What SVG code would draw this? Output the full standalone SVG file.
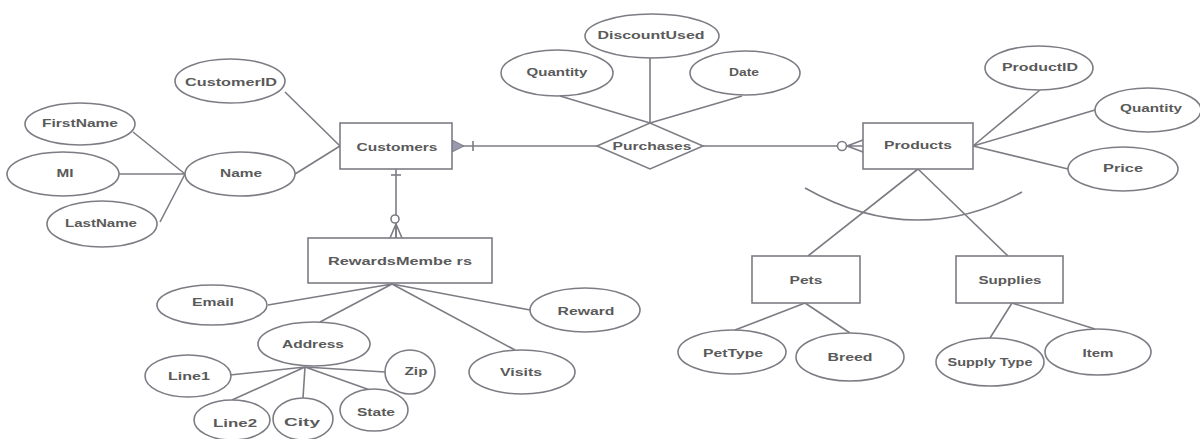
<svg xmlns="http://www.w3.org/2000/svg" width="1200" height="439" viewBox="0 0 1200 439">
<style>
.s{fill:#fff;stroke:#7c7c84;stroke-width:1.6}
.l{fill:none;stroke:#7c7c84;stroke-width:1.6}
.t{font-family:"Liberation Sans",Arial,sans-serif;font-weight:bold;font-size:11px;fill:#5a5a5a;text-anchor:middle}
</style>
<rect width="1200" height="439" fill="#fff"/>
<g id="connectors">
<path class="l" d="M285,92 L340,146 M295,174 L340,146 M133,132 L185,174 M118,174 L185,174 M160,222 L185,174"/>
<path class="l" d="M452,146 L597,146 M703,146 L838,146"/>
<path class="l" d="M560,96 L650,123 M650,58 L650,123 M742,96 L650,123"/>
<path class="l" d="M973,146 L1040,90 M973,146 L1095,110 M973,146 L1068,169"/>
<path class="l" d="M918,169 L808,256 M918,169 L1008,256"/>
<path class="l" d="M805,188 Q915,250 1022,192"/>
<path class="l" d="M805,303 L735,330 M805,303 L850,333 M1012,303 L990,338 M1012,303 L1095,329"/>
<path class="l" d="M396,169 L396,238"/>
<path class="l" d="M392,284 L268,305 M392,284 L320,322 M392,284 L530,310 M392,284 L515,350"/>
<path class="l" d="M305,367 L230,375 M305,367 L232,400 M305,367 L303,398 M305,367 L370,390 M305,367 L385,372"/>
<polygon points="452,140 464,146 452,152" fill="#9a9aae" stroke="#7c7c84" stroke-width="1"/>
<path class="l" d="M473,141 L473,151"/>
<circle cx="842" cy="146" r="4.5" class="s"/>
<path class="l" d="M847,146 L863,140 M847,146 L863,146 M847,146 L863,152"/>
<path class="l" d="M391,175 L401,175"/>
<circle cx="395" cy="219" r="4" class="s"/>
<path class="l" d="M396,224 L390,238 M396,224 L396,238 M396,224 L402,238"/>
</g>
<g id="Customers"><rect class="s" x="340" y="123" width="112" height="46"/><text class="t" x="397" y="151" textLength="81" lengthAdjust="spacingAndGlyphs">Customers</text></g>
<g id="CustomerID"><ellipse class="s" cx="230" cy="81" rx="55" ry="22"/><text class="t" x="231" y="86" textLength="92" lengthAdjust="spacingAndGlyphs">CustomerID</text></g>
<g id="FirstName"><ellipse class="s" cx="80" cy="124" rx="55" ry="21"/><text class="t" x="80" y="127" textLength="76" lengthAdjust="spacingAndGlyphs">FirstName</text></g>
<g id="MI"><ellipse class="s" cx="63" cy="174" rx="56" ry="22"/><text class="t" x="65" y="177" textLength="17" lengthAdjust="spacingAndGlyphs">MI</text></g>
<g id="Name"><ellipse class="s" cx="240" cy="174" rx="55" ry="22"/><text class="t" x="241" y="177" textLength="42" lengthAdjust="spacingAndGlyphs">Name</text></g>
<g id="LastName"><ellipse class="s" cx="102" cy="224" rx="55" ry="23"/><text class="t" x="101" y="227" textLength="72" lengthAdjust="spacingAndGlyphs">LastName</text></g>
<g id="Purchases"><polygon class="s" points="597,146 650,123 703,146 650,169"/><text class="t" x="652" y="150" textLength="79" lengthAdjust="spacingAndGlyphs">Purchases</text></g>
<g id="Quantity1"><ellipse class="s" cx="557" cy="73" rx="56" ry="23"/><text class="t" x="557" y="76" textLength="61" lengthAdjust="spacingAndGlyphs">Quantity</text></g>
<g id="DiscountUsed"><ellipse class="s" cx="652" cy="36" rx="67" ry="22"/><text class="t" x="651" y="39" textLength="107" lengthAdjust="spacingAndGlyphs">DiscountUsed</text></g>
<g id="Date"><ellipse class="s" cx="745" cy="73" rx="55" ry="22"/><text class="t" x="744" y="76" textLength="30" lengthAdjust="spacingAndGlyphs">Date</text></g>
<g id="Products"><rect class="s" x="863" y="123" width="110" height="46"/><text class="t" x="918" y="149" textLength="68" lengthAdjust="spacingAndGlyphs">Products</text></g>
<g id="ProductID"><ellipse class="s" cx="1039" cy="68" rx="54" ry="22"/><text class="t" x="1040" y="71" textLength="76" lengthAdjust="spacingAndGlyphs">ProductID</text></g>
<g id="Quantity2"><ellipse class="s" cx="1148" cy="110" rx="53" ry="22"/><text class="t" x="1151" y="112" textLength="62" lengthAdjust="spacingAndGlyphs">Quantity</text></g>
<g id="Price"><ellipse class="s" cx="1123" cy="169" rx="55" ry="22"/><text class="t" x="1123" y="172" textLength="40" lengthAdjust="spacingAndGlyphs">Price</text></g>
<g id="Pets"><rect class="s" x="752" y="256" width="108" height="47"/><text class="t" x="806" y="284" textLength="33" lengthAdjust="spacingAndGlyphs">Pets</text></g>
<g id="Supplies"><rect class="s" x="956" y="256" width="107" height="47"/><text class="t" x="1010" y="284" textLength="63" lengthAdjust="spacingAndGlyphs">Supplies</text></g>
<g id="PetType"><ellipse class="s" cx="732" cy="352" rx="54" ry="22"/><text class="t" x="733" y="357" textLength="60" lengthAdjust="spacingAndGlyphs">PetType</text></g>
<g id="Breed"><ellipse class="s" cx="850" cy="357" rx="54" ry="24"/><text class="t" x="850" y="361" textLength="45" lengthAdjust="spacingAndGlyphs">Breed</text></g>
<g id="SupplyType"><ellipse class="s" cx="990" cy="362" rx="54" ry="24"/><text class="t" x="990" y="366" textLength="85" lengthAdjust="spacingAndGlyphs">Supply Type</text></g>
<g id="Item"><ellipse class="s" cx="1098" cy="352" rx="53" ry="23"/><text class="t" x="1098" y="357" textLength="31" lengthAdjust="spacingAndGlyphs">Item</text></g>
<g id="RewardsMembers"><rect class="s" x="308" y="238" width="184" height="45"/><text class="t" x="400" y="265" textLength="144" lengthAdjust="spacingAndGlyphs">RewardsMembe rs</text></g>
<g id="Email"><ellipse class="s" cx="212" cy="305" rx="55" ry="20"/><text class="t" x="213" y="306" textLength="42" lengthAdjust="spacingAndGlyphs">Email</text></g>
<g id="Address"><ellipse class="s" cx="314" cy="344" rx="56" ry="22"/><text class="t" x="313" y="348" textLength="62" lengthAdjust="spacingAndGlyphs">Address</text></g>
<g id="Reward"><ellipse class="s" cx="585" cy="310" rx="55" ry="22"/><text class="t" x="586" y="315" textLength="57" lengthAdjust="spacingAndGlyphs">Reward</text></g>
<g id="Visits"><ellipse class="s" cx="522" cy="372" rx="53" ry="22"/><text class="t" x="521" y="376" textLength="42" lengthAdjust="spacingAndGlyphs">Visits</text></g>
<g id="Line1"><ellipse class="s" cx="188" cy="376" rx="43" ry="21"/><text class="t" x="189" y="380" textLength="42" lengthAdjust="spacingAndGlyphs">Line1</text></g>
<g id="Zip"><ellipse class="s" cx="410" cy="372" rx="25" ry="22"/><text class="t" x="416" y="375" textLength="23" lengthAdjust="spacingAndGlyphs">Zip</text></g>
<g id="Line2"><ellipse class="s" cx="232" cy="420" rx="38" ry="20"/><text class="t" x="235" y="427" textLength="44" lengthAdjust="spacingAndGlyphs">Line2</text></g>
<g id="City"><ellipse class="s" cx="303" cy="419" rx="30" ry="21"/><text class="t" x="302" y="426" textLength="36" lengthAdjust="spacingAndGlyphs">City</text></g>
<g id="State"><ellipse class="s" cx="374" cy="410" rx="34" ry="21"/><text class="t" x="376" y="416" textLength="38" lengthAdjust="spacingAndGlyphs">State</text></g>
</svg>
